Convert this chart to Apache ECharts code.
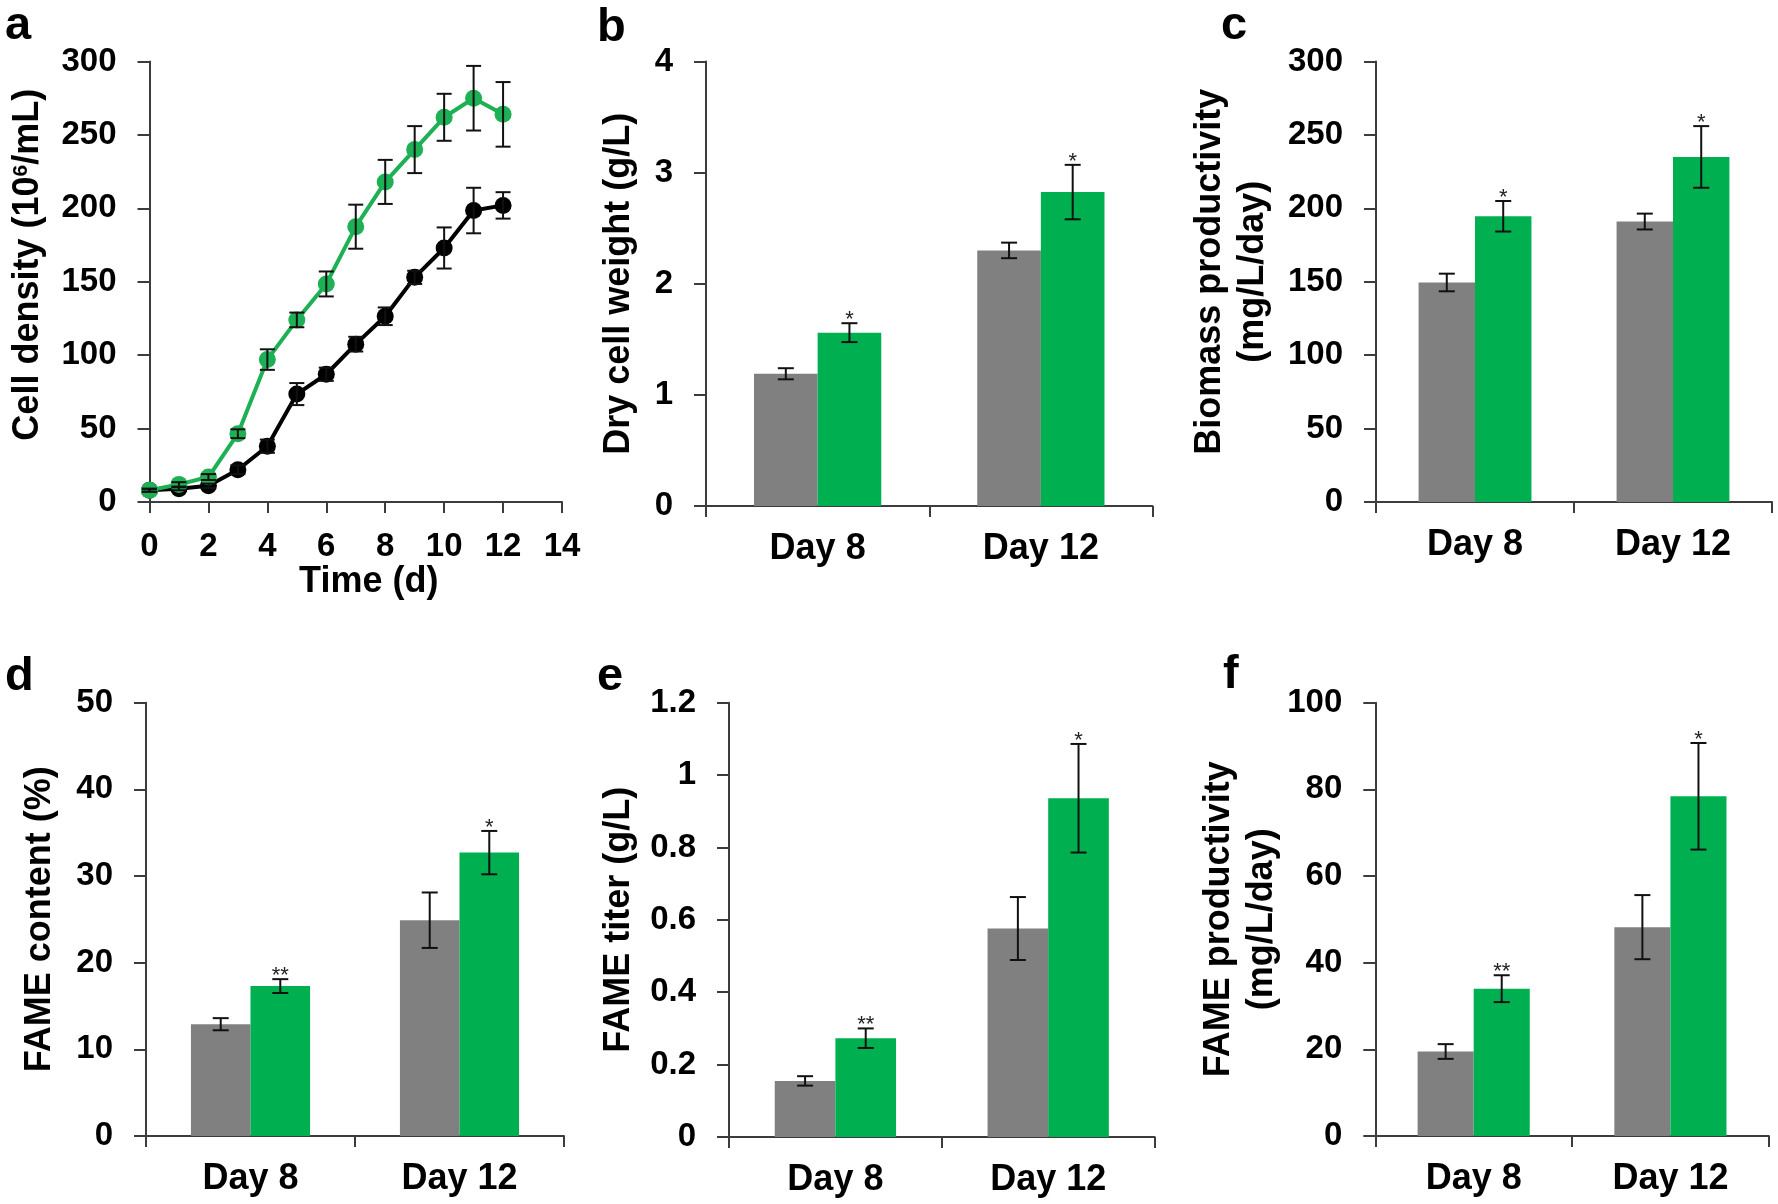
<!DOCTYPE html>
<html><head><meta charset="utf-8">
<script src="https://cdn.jsdelivr.net/npm/echarts@6/dist/echarts.min.js"></script>
<style>html,body{margin:0;padding:0;background:#fff}#c{width:1778px;height:1204px}</style>
</head><body><div id="c"></div>
<script>
// ---------- DATA ----------
const days = [0,1,2,3,4,5,6,7,8,9,10,11,12];
const greenDensity    = [8,12,17,46.5,97,124,148.5,187.5,218,240,262,275,264];
const greenDensityErr = [1,1.5,2,3,7,5,8.5,15,15,16,16,22,22];
const blackDensity    = [8,9,11,22,38,73.5,87,107.5,126.5,153,173,198.5,202];
const blackDensityErr = [1,1,1.5,3,4.5,7.5,4.5,5,6,4.5,14,15.5,9];
const timeTicks = [0,2,4,6,8,10,12,14];

const dayCats = ['Day 8','Day 12'];

const dcwGray = [1.19, 2.30];       const dcwGrayErr = [0.05, 0.07];
const dcwGreen = [1.56, 2.825];     const dcwGreenErr = [0.085, 0.245];
const dcwSig = ['*','*'];

const bioGray = [149.5, 191];       const bioGrayErr = [6, 5.4];
const bioGreen = [194.6, 235];      const bioGreenErr = [10.4, 21];
const bioSig = ['*','*'];

const fameGray = [12.9, 24.9];      const fameGrayErr = [0.7, 3.2];
const fameGreen = [17.3, 32.7];     const fameGreenErr = [0.8, 2.5];
const fameSig = ['**','*'];

const titerGray = [0.155, 0.576];   const titerGrayErr = [0.013, 0.087];
const titerGreen = [0.273, 0.936];  const titerGreenErr = [0.027, 0.15];
const titerSig = ['**','*'];

const fprodGray = [19.5, 48.2];     const fprodGrayErr = [1.7, 7.4];
const fprodGreen = [34.0, 78.4];    const fprodGreenErr = [3.1, 12.3];
const fprodSig = ['**','*'];

// ---------- STYLE ----------
const FONT = "'Liberation Sans', Arial, Helvetica, sans-serif";
const GRAY = '#808080', GREEN = '#00b050', LINEGREEN = '#1db054', AXIS = '#3c3c3c';
const CAT_GAP = 0.43;

const grids = [
  {left:149.5, top:61.5, width:412.5, height:440.5},   // a
  {left:706,   top:61.5, width:446.5, height:444.5},   // b
  {left:1376,  top:61.5, width:396,   height:440.5},   // c
  {left:146,   top:702.7, width:418,  height:433.3},   // d
  {left:729,   top:702.7, width:425.6,height:434.3},   // e
  {left:1375.3,top:702.7, width:393.5,height:433.3}    // f
];

const axisLine = {show:true, lineStyle:{color:AXIS, width:2}};
const axisTick = {show:true, inside:false, length:11, lineStyle:{color:AXIS, width:2}};
const tickLabel = {color:'#000', fontSize:33, fontWeight:'bold', fontFamily:FONT};
const nameStyle = (extra) => Object.assign({color:'#000', fontSize:36, fontWeight:'bold', fontFamily:FONT}, extra||{});

function valueY(gi, max, interval, name, gap, ns) {
  return {
    type:'value', gridIndex:gi, min:0, max:max, interval:interval,
    axisLine:axisLine, axisTick:Object.assign({}, axisTick, {length:12}),
    splitLine:{show:false},
    axisLabel:Object.assign({margin:33}, tickLabel),
    name:name, nameLocation:'middle', nameGap:gap, nameRotate:90,
    nameTextStyle:nameStyle(ns)
  };
}
function catX(gi) {
  return {
    type:'category', gridIndex:gi, data:dayCats, boundaryGap:true,
    axisLine:axisLine, axisTick:Object.assign({}, axisTick, {alignWithLabel:false}),
    axisLabel:{color:'#000', fontSize:36, fontWeight:'bold', fontFamily:FONT, margin:25, interval:0}
  };
}

function barErr(gi, vals, errs, sig, side) {
  return {
    type:'custom', xAxisIndex:gi, yAxisIndex:gi, z:10,
    data: vals.map((v,i)=>[i, v, errs[i]]),
    encode:{x:0, y:1},
    renderItem:function(params, api){
      const i = api.value(0), v = api.value(1), e = api.value(2);
      const catW = api.size([1,0])[0];
      const bw = catW*(1-CAT_GAP)/2;
      const x = api.coord([i, v])[0] + side*bw/2;
      const yt = api.coord([i, v+e])[1], yb = api.coord([i, v-e])[1];
      const cw = 8;
      const ls = {stroke:'#111', lineWidth:2};
      const children = [
        {type:'line', shape:{x1:x,y1:yt,x2:x,y2:yb}, style:ls},
        {type:'line', shape:{x1:x-cw,y1:yt,x2:x+cw,y2:yt}, style:ls},
        {type:'line', shape:{x1:x-cw,y1:yb,x2:x+cw,y2:yb}, style:ls}
      ];
      if (sig && sig[params.dataIndex]) {
        children.push({type:'text', style:{x:x, y:yt-3, text:sig[params.dataIndex],
          fill:'#222', font:'22px '+FONT, align:'center', verticalAlign:'middle'}});
      }
      return {type:'group', children:children};
    }
  };
}
function lineErr(vals, errs) {
  return {
    type:'custom', xAxisIndex:0, yAxisIndex:0, z:10,
    data: vals.map((v,i)=>[days[i], v, errs[i]]),
    encode:{x:0, y:1},
    renderItem:function(params, api){
      const t = api.value(0), v = api.value(1), e = api.value(2);
      const x = api.coord([t, v])[0];
      const yt = api.coord([t, v+e])[1], yb = api.coord([t, v-e])[1];
      const cw = 7.5, ls = {stroke:'#111', lineWidth:2};
      return {type:'group', children:[
        {type:'line', shape:{x1:x,y1:yt,x2:x,y2:yb}, style:ls},
        {type:'line', shape:{x1:x-cw,y1:yt,x2:x+cw,y2:yt}, style:ls},
        {type:'line', shape:{x1:x-cw,y1:yb,x2:x+cw,y2:yb}, style:ls}
      ]};
    }
  };
}
function bars(gi, gray, green) {
  return [
    {type:'bar', xAxisIndex:gi, yAxisIndex:gi, data:gray, itemStyle:{color:GRAY}, barGap:'0%', barCategoryGap:(CAT_GAP*100)+'%', z:2},
    {type:'bar', xAxisIndex:gi, yAxisIndex:gi, data:green, itemStyle:{color:GREEN}, barGap:'0%', barCategoryGap:(CAT_GAP*100)+'%', z:2}
  ];
}

const xAxes = [
  {type:'value', gridIndex:0, min:timeTicks[0], max:timeTicks[timeTicks.length-1], interval:timeTicks[1]-timeTicks[0],
   axisLine:axisLine, axisTick:axisTick, splitLine:{show:false},
   axisLabel:Object.assign({margin:28}, tickLabel),
   name:'Time (d)', nameLocation:'middle', nameGap:57, nameTextStyle:nameStyle({padding:[0,0,0,26]})},
  catX(1), catX(2), catX(3), catX(4), catX(5)
];
const yAxes = [
  valueY(0, 300, 50, 'Cell density (10{sup|6}/mL)', 103, {padding:[0,0,0,34],
     rich:{sup:{fontSize:21, fontWeight:'bold', fontFamily:FONT, color:'#000', verticalAlign:'top', lineHeight:12}}}),
  valueY(1, 4, 1, 'Dry cell weight (g/L)', 69),
  valueY(2, 300, 50, 'Biomass productivity\n(mg/L/day)', 101, {lineHeight:43, padding:[0,0,0,20]}),
  valueY(3, 50, 10, 'FAME content (%)', 88),
  valueY(4, 1.2, 0.2, 'FAME titer (g/L)', 92),
  valueY(5, 100, 20, 'FAME productivity\n(mg/L/day)', 84, {lineHeight:43})
];

const series = [
  {type:'line', xAxisIndex:0, yAxisIndex:0, data:days.map((d,i)=>[d, blackDensity[i]]),
   lineStyle:{color:'#000', width:4}, itemStyle:{color:'#000'}, symbol:'circle', symbolSize:17, z:3},
  {type:'line', xAxisIndex:0, yAxisIndex:0, data:days.map((d,i)=>[d, greenDensity[i]]),
   lineStyle:{color:LINEGREEN, width:4}, itemStyle:{color:LINEGREEN}, symbol:'circle', symbolSize:17, z:4},
  lineErr(blackDensity, blackDensityErr),
  lineErr(greenDensity, greenDensityErr),
  ...bars(1, dcwGray, dcwGreen), barErr(1, dcwGray, dcwGrayErr, null, -1), barErr(1, dcwGreen, dcwGreenErr, dcwSig, 1),
  ...bars(2, bioGray, bioGreen), barErr(2, bioGray, bioGrayErr, null, -1), barErr(2, bioGreen, bioGreenErr, bioSig, 1),
  ...bars(3, fameGray, fameGreen), barErr(3, fameGray, fameGrayErr, null, -1), barErr(3, fameGreen, fameGreenErr, fameSig, 1),
  ...bars(4, titerGray, titerGreen), barErr(4, titerGray, titerGrayErr, null, -1), barErr(4, titerGreen, titerGreenErr, titerSig, 1),
  ...bars(5, fprodGray, fprodGreen), barErr(5, fprodGray, fprodGrayErr, null, -1), barErr(5, fprodGreen, fprodGreenErr, fprodSig, 1)
];

// panel letters: x = left edge, b = baseline
const LETTER_SIZE = 47;
const panelLetters = [
  {t:'a', x:5, b:42}, {t:'b', x:597, b:44}, {t:'c', x:1221, b:42},
  {t:'d', x:5, b:693}, {t:'e', x:597, b:693}, {t:'f', x:1223, b:691}
];

const chart = echarts.init(document.getElementById('c'), null, {renderer:'canvas'});
chart.setOption({
  backgroundColor:'#fff',
  animation:false,
  grid:grids.map(g=>Object.assign({containLabel:false}, g)),
  xAxis:xAxes, yAxis:yAxes, series:series,
  graphic:panelLetters.map(p=>({type:'text', x:p.x, y:p.b - 0.347*LETTER_SIZE,
    style:{text:p.t, fill:'#000', font:'bold '+LETTER_SIZE+'px '+FONT, align:'left', verticalAlign:'middle'}}))
});
</script></body></html>
